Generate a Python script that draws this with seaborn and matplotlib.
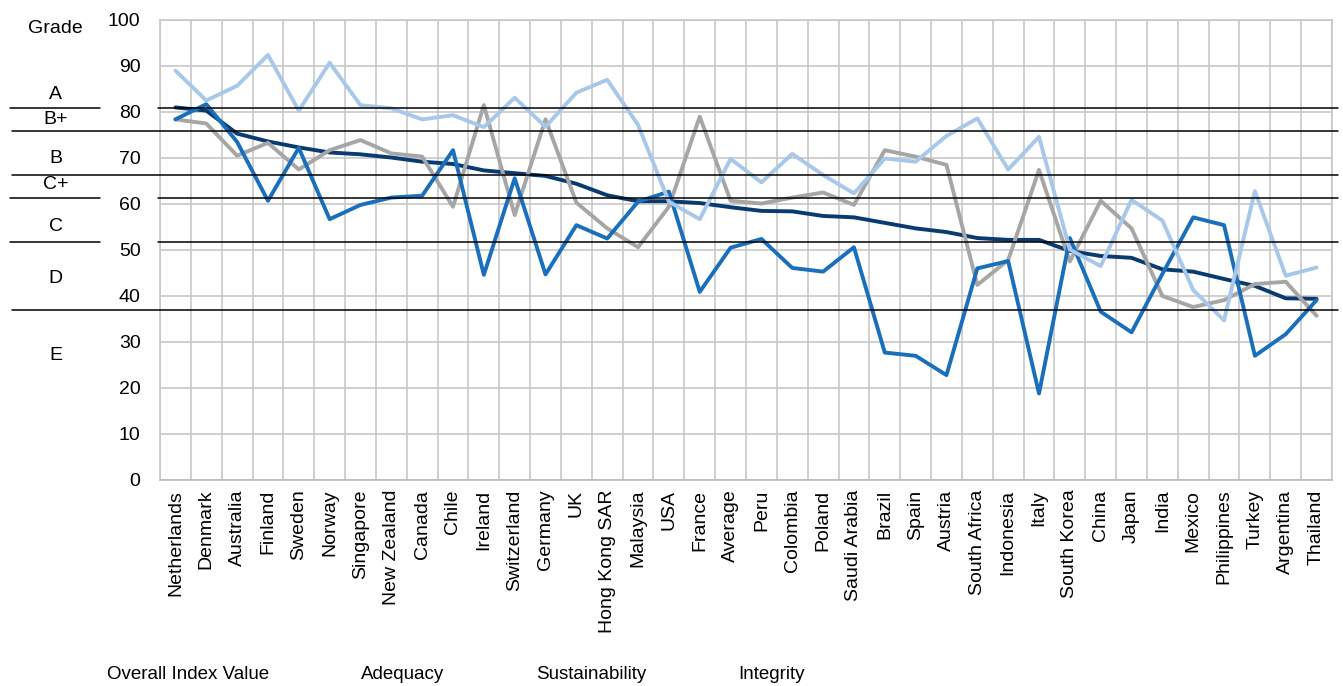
import pandas as pd
import numpy as np
import seaborn as sns
import matplotlib.pyplot as plt
import matplotlib.transforms as mtransforms

countries = ['Netherlands', 'Denmark', 'Australia', 'Finland', 'Sweden', 'Norway', 'Singapore',
             'New Zealand', 'Canada', 'Chile', 'Ireland', 'Switzerland', 'Germany', 'UK',
             'Hong Kong SAR', 'Malaysia', 'USA', 'France', 'Average', 'Peru', 'Colombia', 'Poland',
             'Saudi Arabia', 'Brazil', 'Spain', 'Austria', 'South Africa', 'Indonesia', 'Italy',
             'South Korea', 'China', 'Japan', 'India', 'Mexico', 'Philippines', 'Turkey',
             'Argentina', 'Thailand']

overall = [81.0, 80.3, 75.3, 73.6, 72.3, 71.2, 70.8, 70.1, 69.2, 68.7, 67.3, 66.7, 66.1, 64.4,
           61.9, 60.6, 60.6, 60.2, 59.3, 58.5, 58.4, 57.4, 57.1, 55.9, 54.7, 53.9, 52.6, 52.2,
           52.2, 49.8, 48.7, 48.3, 45.8, 45.3, 43.7, 42.2, 39.5, 39.4]
adequacy = [78.4, 77.5, 70.5, 73.3, 67.5, 71.7, 73.9, 71.0, 70.3, 59.4, 81.5, 57.6, 78.4, 60.3,
            54.7, 50.6, 59.4, 79.0, 60.7, 60.1, 61.4, 62.5, 59.8, 71.7, 70.3, 68.5, 42.4, 47.8,
            67.4, 47.5, 60.7, 54.7, 40.0, 37.6, 39.1, 42.6, 43.1, 35.7]
sustainability = [78.4, 81.7, 73.5, 60.7, 72.2, 56.7, 59.8, 61.4, 61.8, 71.7, 44.6, 65.6, 44.7,
                  55.4, 52.5, 60.5, 62.7, 40.9, 50.5, 52.4, 46.1, 45.3, 50.6, 27.7, 27.0, 22.8,
                  46.0, 47.6, 18.8, 52.6, 36.6, 32.1, 44.8, 57.1, 55.4, 27.0, 31.7, 39.1]
integrity = [89.0, 82.5, 85.7, 92.4, 80.3, 90.7, 81.5, 80.8, 78.4, 79.3, 76.7, 83.1, 76.8, 84.2,
             87.0, 77.2, 60.5, 56.7, 69.8, 64.7, 70.9, 66.3, 62.3, 69.9, 69.2, 74.8, 78.6, 67.5,
             74.6, 50.1, 46.5, 60.9, 56.4, 41.3, 34.7, 62.8, 44.4, 46.2]

series_names = ['Overall Index Value', 'Adequacy', 'Sustainability', 'Integrity']
colors = ['#0a3a72', '#a6a6a6', '#1a6fbd', '#a7c8ea']

# grade bands: label, label height, boundary lines (full width through the tick area or not)
grade_labels = ['A', 'B+', 'B', 'C+', 'C', 'D', 'E']
grade_label_y = [83.9, 78.3, 69.9, 64.2, 55.0, 43.9, 27.1]
grade_lines = [80.9, 75.9, 66.4, 61.4, 51.8, 37.0]
grade_full = [False, True, True, False, False, True]

df = pd.DataFrame({
    'Country': countries * 4,
    'Score': overall + adequacy + sustainability + integrity,
    'Series': np.repeat(series_names, len(countries)),
})

sns.set_style('white')
plt.rcParams['font.family'] = ['Liberation Sans', 'DejaVu Sans']
plt.rcParams['text.color'] = 'black'

fig = plt.figure(figsize=(13.43, 6.86), dpi=100)
ax = fig.add_axes([160 / 1343, 1 - 480 / 686, 1172 / 1343, 460 / 686])

sns.lineplot(data=df, x='Country', y='Score', hue='Series', hue_order=series_names,
             palette=dict(zip(series_names, colors)), sort=False, linewidth=2.8, ax=ax)

ax.set_xlim(-0.5, len(countries) - 0.5)
ax.set_ylim(0, 100)
ax.set_yticks(range(0, 101, 10))
ax.set_xticks(range(len(countries)))
ax.set_xticklabels(countries, rotation=90, fontsize=14)
ax.set_xticks(np.arange(-0.5, len(countries), 1), minor=True)
ax.tick_params(axis='x', which='major', length=0, pad=7, labelcolor='black')
ax.tick_params(axis='x', which='minor', length=5, color='#c0c0c0', width=1.2)
ax.tick_params(axis='y', length=0, pad=14, labelsize=14, labelcolor='black')
ax.set_xlabel('')
ax.set_ylabel('')

ax.grid(True, axis='y', which='major', color='#c8c8c8', linewidth=1.2)
ax.grid(True, axis='x', which='minor', color='#c8c8c8', linewidth=1.2)
ax.set_axisbelow(True)
for s in ax.spines.values():
    s.set_color('#c8c8c8')
    s.set_linewidth(1.2)
ax.spines['bottom'].set_color('#bbbbbb')

# grade boundary lines
trans = mtransforms.blended_transform_factory(ax.transAxes, ax.transData)
for val, full in zip(grade_lines, grade_full):
    if full:
        ax.plot([-0.126, 1.005], [val, val], color='black', linewidth=1.1, transform=trans,
                clip_on=False, zorder=5)
    else:
        ax.plot([-0.128, -0.051], [val, val], color='black', linewidth=1.1, transform=trans,
                clip_on=False, zorder=5)
        ax.plot([-0.002, 1.005], [val, val], color='black', linewidth=1.1, transform=trans,
                clip_on=False, zorder=5)

for lab, y in zip(grade_labels, grade_label_y):
    ax.text(-0.089, y, lab, transform=trans, ha='center', va='center', fontsize=14)
ax.text(-0.089, 98.2, 'Grade', transform=trans, ha='center', va='center', fontsize=14)

# legend along the bottom, text only
handles, labels = ax.get_legend_handles_labels()
ax.legend_.remove()
leg = fig.legend(handles, labels, loc='center left', bbox_to_anchor=(45 / 1343, 1 - 674 / 686),
                 ncol=4, frameon=False, fontsize=13.5, handlelength=2.5, handletextpad=0.8,
                 columnspacing=1.6, borderpad=0, borderaxespad=0)
for h in leg.legend_handles:
    h.set_visible(False)

fig.savefig('out.png', dpi=100)
